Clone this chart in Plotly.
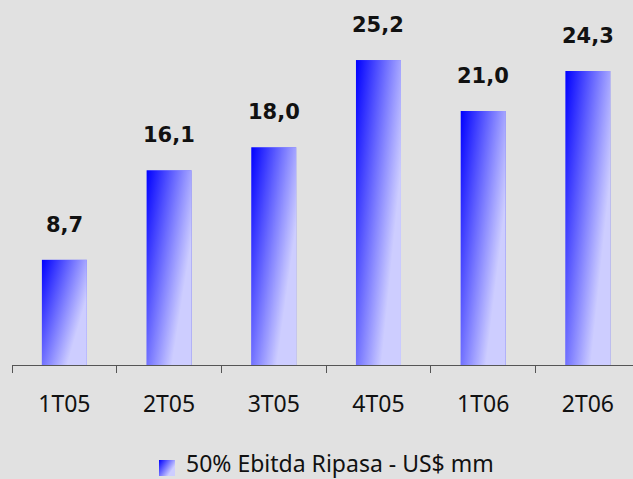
import base64
import plotly.graph_objects as go

# ---- data ----
categories = ["1T05", "2T05", "3T05", "4T05", "1T06", "2T06"]
values = [8.7, 16.1, 18.0, 25.2, 21.0, 24.3]
value_labels = ["8,7", "16,1", "18,0", "25,2", "21,0", "24,3"]
series_name = "50% Ebitda Ripasa - US$ mm"

# ---- style ----
BG = "#E1E1E1"
BAR_W = 0.43
W, H = 633, 479
ML, MR, MT, MB = 12, 0, 0, 114
PLOT_W = W - ML - MR
PLOT_H = H - MT - MB
PX_PER_CAT = 104.7
PX_PER_UNIT = 12.1

svg = (
    "<svg xmlns='http://www.w3.org/2000/svg' viewBox='0 0 100 100' preserveAspectRatio='none'>"
    "<defs><linearGradient id='g' x1='0' y1='0' x2='0.85' y2='0.58'>"
    "<stop offset='0' stop-color='#0000FF'/><stop offset='1' stop-color='#CDCDFF'/>"
    "</linearGradient></defs><rect x='0' y='0' width='100' height='100' fill='url(#g)'/></svg>"
)
grad_src = "data:image/svg+xml;base64," + base64.b64encode(svg.encode()).decode()

fig = go.Figure()
fig.add_trace(go.Bar(
    x=categories, y=values, name=series_name,
    marker=dict(color="#7777FF", line=dict(width=0)),
    showlegend=False, hoverinfo="x+y",
))

images = []
for i, v in enumerate(values):
    images.append(dict(
        source=grad_src, xref="x", yref="y",
        x=i - BAR_W / 2, y=v, sizex=BAR_W, sizey=v,
        xanchor="left", yanchor="top", sizing="stretch", layer="above",
    ))

# legend swatch (paper coords)
def px_x(p):
    return (p - ML) / PLOT_W

def px_y(p):
    return (MT + PLOT_H - p) / PLOT_H

images.append(dict(
    source=grad_src, xref="paper", yref="paper",
    x=px_x(159), y=px_y(460), sizex=16 / PLOT_W, sizey=16 / PLOT_H,
    xanchor="left", yanchor="top", sizing="stretch", layer="above",
))

annotations = []
for c, v, t in zip(categories, values, value_labels):
    annotations.append(dict(
        x=c, y=v, xref="x", yref="y", text=t, showarrow=False,
        yanchor="bottom", yshift=21,
        font=dict(family="DejaVu Sans", size=21, color="#111111", weight="bold"),
    ))
annotations.append(dict(
    x=px_x(184), y=px_y(463.3), xref="paper", yref="paper", text=series_name,
    showarrow=False, xanchor="left", yanchor="middle",
    font=dict(family="Noto Sans", size=23, color="#111111"),
))

fig.update_layout(
    width=W, height=H,
    margin=dict(l=ML, r=MR, t=MT, b=MB, pad=0),
    paper_bgcolor=BG, plot_bgcolor=BG,
    bargap=1 - BAR_W,
    showlegend=False,
    images=images,
    annotations=annotations,
    xaxis=dict(
        type="category",
        range=[-0.5, -0.5 + PLOT_W / PX_PER_CAT],
        showline=True, linecolor="#555555", linewidth=1,
        ticks="outside", ticklen=7, tickcolor="#555555", tickwidth=1,
        tickson="boundaries", showgrid=False, zeroline=False,
        tickfont=dict(family="Noto Sans", size=23, color="#111111"),
        ticklabelstandoff=18,
    ),
    yaxis=dict(
        range=[0, PLOT_H / PX_PER_UNIT], visible=False, showgrid=False, zeroline=False,
    ),
)

fig.write_html("out.html")
